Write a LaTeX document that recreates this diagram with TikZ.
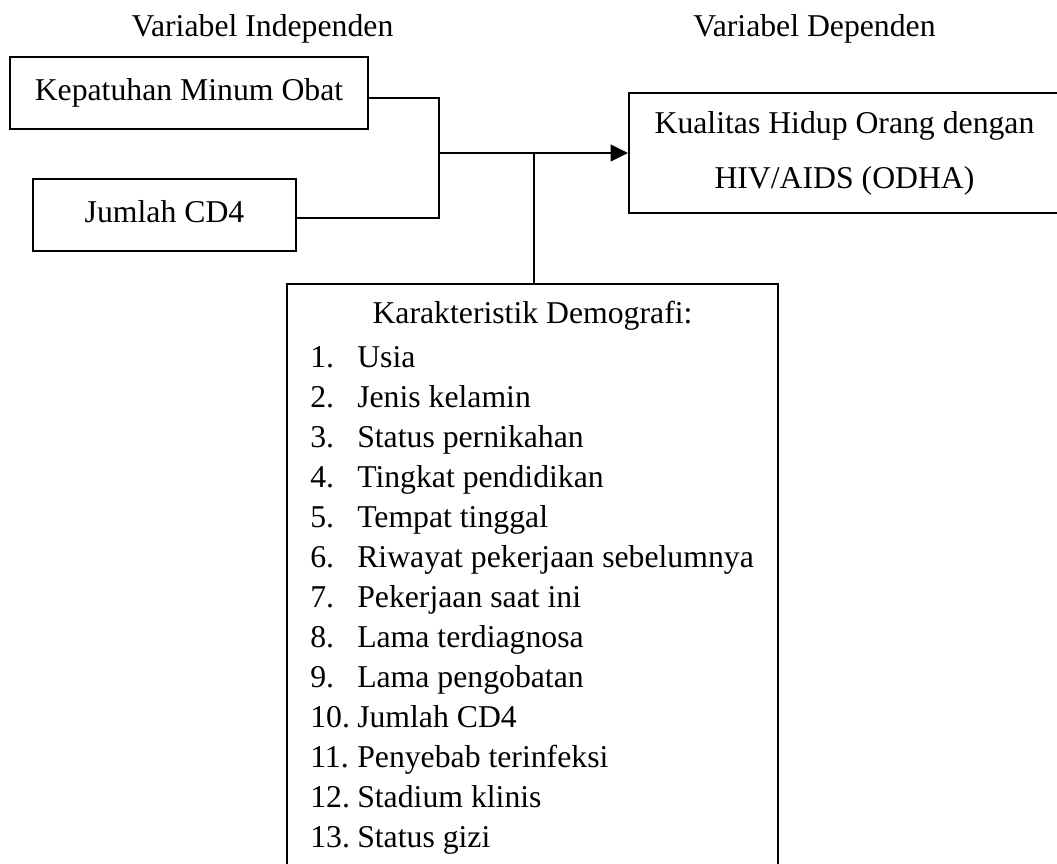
\documentclass[tikz,border=0pt]{standalone}
\usepackage{fontspec}
\setmainfont{Liberation Serif}
\usetikzlibrary{arrows.meta}

\tikzset{
  varbox/.style={draw, line width=1.7pt, inner sep=0pt, text height=16.4pt, text depth=5.2pt},
  conn/.style={line width=1.7pt},
  txt/.style={inner sep=0pt, anchor=base},
  item/.style={inner sep=0pt, anchor=base west},
}

\begin{document}
\begin{tikzpicture}[x=0.75pt,y=0.75pt,yscale=-1,xscale=1,font=\fontsize{23.8pt}{30pt}\selectfont]
\useasboundingbox (0,0) rectangle (1057,864);
\clip (0,0) rectangle (1057,864);

% Headings
\node[txt] (indep) at (262.5,36) {Variabel Independen};
\node[txt] (dep) at (814.5,36) {Variabel Dependen};

% Independent variables
\node[varbox, minimum width=268.5pt, minimum height=54pt] (obat) at (189,93.3) {Kepatuhan Minum Obat};
\node[varbox, minimum width=197.25pt, minimum height=54pt] (cdempat) at (164.5,215.3) {Jumlah CD4};

% Dependent variable
\node[varbox, minimum width=338.25pt, minimum height=90pt] (odha) at (854.5,153) {};
\node[txt] (odhaA) at (844.5,133) {Kualitas Hidup Orang dengan};
\node[txt] (odhaB) at (844.5,188) {HIV/AIDS (ODHA)};

% Demographic characteristics
\node[varbox, minimum width=368.25pt, minimum height=477pt] (demo) at (532.5,602) {};
\node[txt] (demotitle) at (532.5,323) {Karakteristik Demografi:};
\foreach \name [count=\i] in {Usia, Jenis kelamin, Status pernikahan, Tingkat pendidikan, Tempat tinggal, Riwayat pekerjaan sebelumnya, Pekerjaan saat ini, Lama terdiagnosa, Lama pengobatan, Jumlah CD4, Penyebab terinfeksi, Stadium klinis, Status gizi}{
  \node[item] (num\i) at (310,{367+(\i-1)*40}) {\i.};
  \node[item] (item\i) at (357,{367+(\i-1)*40}) {\name};
}

% Connectors
\coordinate (join) at (439,153);
\coordinate (split) at (534,153);
\draw[conn] ([yshift=3.75pt]obat.east) -| (join) |- ([yshift=2pt]cdempat.east);
\draw[conn, -{Triangle[length=13pt,width=12.5pt]}] (join) -- (odha.west);
\draw[conn] (split) -- (split |- demo.north);

\end{tikzpicture}
\end{document}
